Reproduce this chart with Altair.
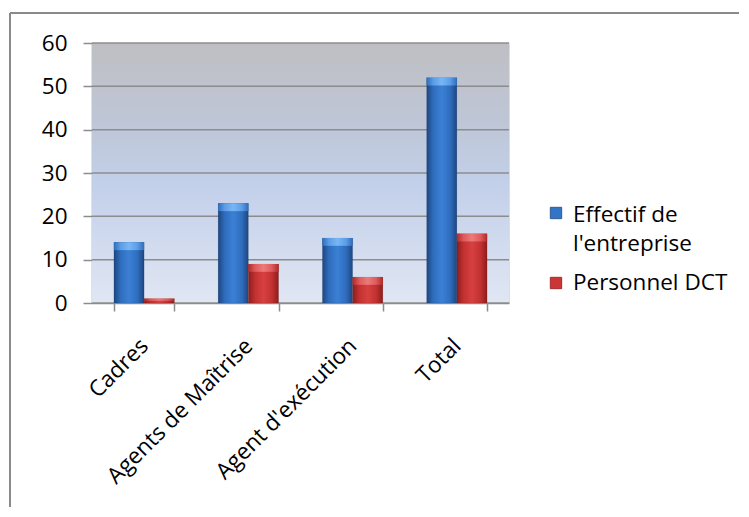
import altair as alt
import pandas as pd

categories = ["Cadres", "Agents de Maîtrise", "Agent d'exécution", "Total"]
series = ["Effectif de l'entreprise", "Personnel DCT"]
effectif = [14, 23, 15, 52]
personnel = [1, 9, 6, 16]
y_ticks = [0, 10, 20, 30, 40, 50, 60]

rows = []
for c, a, b in zip(categories, effectif, personnel):
    rows.append({"cat": c, "serie": series[0], "val": a})
    rows.append({"cat": c, "serie": series[1], "val": b})
df = pd.DataFrame(rows)
ticks_df = pd.DataFrame({"t": y_ticks})
one = pd.DataFrame({"k": [0]})

W, H = 417, 260
FONT = "Open Sans"
FS = 22.5
GRAY = "#8c8c8c"

def hgrad(edge, mid, center):
    return alt.LinearGradient(
        gradient="linear", x1=0, x2=1, y1=0, y2=0,
        stops=[alt.GradientStop(color=edge, offset=0),
               alt.GradientStop(color=mid, offset=0.22),
               alt.GradientStop(color=center, offset=0.5),
               alt.GradientStop(color=mid, offset=0.78),
               alt.GradientStop(color=edge, offset=1)])

blue = hgrad("#1d4680", "#2f6dbd", "#3b80d6")
red = hgrad("#8e1c1c", "#c23131", "#d84040")
blue_top = hgrad("#2f6dbd", "#5c9de6", "#78b6f4")
red_top = hgrad("#b02a2a", "#de5a5a", "#ec7a7a")

y_axis = alt.Axis(values=y_ticks, grid=False, title=None, tickSize=9,
                  labelPadding=16, domainColor=GRAY, tickColor=GRAY,
                  domainWidth=1.5, tickWidth=1.5,
                  labelFont=FONT, labelFontSize=FS, labelColor="#000")
y_scale = alt.Scale(domain=[0, 60])

bg = alt.Chart(one).mark_rect(
    fill=alt.LinearGradient(
        gradient="linear", x1=0, x2=0, y1=0, y2=1,
        stops=[alt.GradientStop(color="#bebfc3", offset=0),
               alt.GradientStop(color="#bec6d6", offset=0.3),
               alt.GradientStop(color="#c3d0ea", offset=0.55),
               alt.GradientStop(color="#e0e6f3", offset=1)])
).encode(x=alt.value(0), x2=alt.value(W), y=alt.value(0), y2=alt.value(H))

grid = alt.Chart(ticks_df).mark_rule(color=GRAY, strokeWidth=1.5).encode(
    y=alt.Y("t:Q", scale=y_scale, axis=y_axis),
    x=alt.value(0), x2=alt.value(W))

x_enc = alt.X("cat:N", sort=categories,
              scale=alt.Scale(paddingInner=0.42, paddingOuter=0.21),
              axis=alt.Axis(title=None, labelAngle=315, labelAlign="right",
                            labelBaseline="middle", tickBand="extent", tickSize=8,
                            labelPadding=31, labelLimit=0, domainColor=GRAY, tickColor=GRAY,
                            domainWidth=1.5, tickWidth=1.5,
                            labelFont=FONT, labelFontSize=FS, labelColor="#000"))
xo_enc = alt.XOffset("serie:N", sort=series, scale=alt.Scale(domain=series, paddingInner=0))
y_enc = alt.Y("val:Q", scale=y_scale, axis=y_axis)

def bars(name, fill, topfill):
    base = alt.Chart(df).transform_filter(alt.datum.serie == name)
    body = base.mark_bar(fill=fill, stroke="#00000022", strokeWidth=0.5).encode(
        x=x_enc, xOffset=xo_enc, y=y_enc, y2=alt.datum(0))
    top = base.transform_calculate(b="max(datum.val - 1.8, datum.val * 0.5)").mark_bar(
        fill=topfill).encode(x=x_enc, xOffset=xo_enc, y=y_enc, y2="b:Q")
    return body + top

# legend (decoration)
leg_sq1 = alt.Chart(one).mark_square(size=130, fill="#3474c6", stroke="#1d4680", strokeWidth=0.8, opacity=1).encode(
    x=alt.value(464), y=alt.value(170))
leg_sq2 = alt.Chart(one).mark_square(size=130, fill="#cc3535", stroke="#8e1c1c", strokeWidth=0.8, opacity=1).encode(
    x=alt.value(464), y=alt.value(240))
leg_t1 = alt.Chart(one).mark_text(align="left", baseline="middle", font=FONT, fontSize=FS,
                                  color="#000", lineHeight=29).encode(
    x=alt.value(481), y=alt.value(172), text=alt.value(["Effectif de", "l'entreprise"]))
leg_t2 = alt.Chart(one).mark_text(align="left", baseline="middle", font=FONT, fontSize=FS,
                                  color="#000").encode(
    x=alt.value(481), y=alt.value(240), text=alt.value(series[1]))

# outer frame
frame_top = alt.Chart(one).mark_rule(color="#8a8a8a", strokeWidth=2).encode(
    x=alt.value(-82), x2=alt.value(700), y=alt.value(-30))
frame_left = alt.Chart(one).mark_rule(color="#8a8a8a", strokeWidth=2).encode(
    x=alt.value(-82), y=alt.value(-30), y2=alt.value(520))

chart = alt.layer(
    bg, grid, bars(series[0], blue, blue_top), bars(series[1], red, red_top),
    leg_sq1, leg_sq2, leg_t1, leg_t2, frame_top, frame_left
).properties(
    width=W, height=H,
    autosize=alt.AutoSizeParams(type="none"),
    padding={"left": 84, "top": 35, "right": 230, "bottom": 204},
).configure_view(stroke=None).configure(background="white")

chart.save("out.html", embed_options={"renderer": "svg", "actions": False})
